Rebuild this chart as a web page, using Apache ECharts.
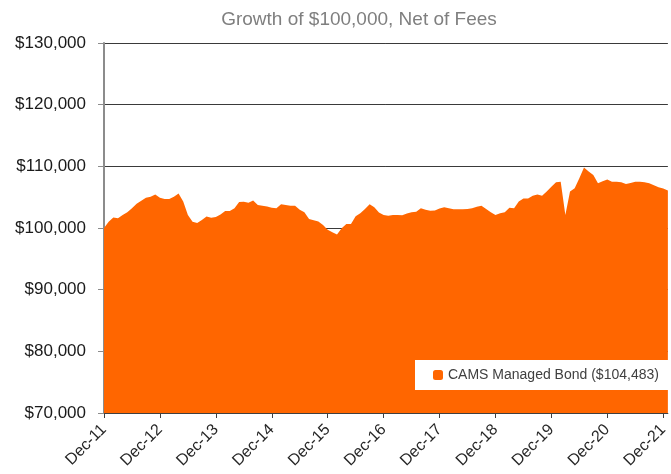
<!DOCTYPE html>
<html>
<head>
<meta charset="utf-8">
<script src="https://cdn.jsdelivr.net/npm/echarts@6/dist/echarts.min.js"></script>
<style>
  html, body { margin: 0; padding: 0; background: #fff; }
  #chart { width: 671px; height: 474px; }
</style>
</head>
<body>
<div id="chart"></div>
<script>
// monthly values, Dec-11 .. Jan-22
const values = [
  100000, 101000, 101700, 101600, 102100, 102550, 103200, 103950, 104400, 104900, 105050, 105450,
  104900, 104700, 104700, 105050, 105600, 104300, 102100, 101000, 100800, 101300, 101850, 101650,
  101800, 102200, 102750, 102750, 103200, 104200, 104270, 104100, 104450, 103750, 103600, 103500,
  103300, 103200, 103850, 103750, 103600, 103600, 102950, 102550, 101450, 101250, 101050, 100500,
  99700, 99300, 98950, 99950, 100650, 100650, 101900, 102400, 103100, 103850, 103350, 102500,
  102100, 102000, 102100, 102100, 102050, 102350, 102550, 102650, 103200, 102950, 102800, 102850,
  103150, 103350, 103200, 103050, 103050, 103050, 103100, 103200, 103450, 103600, 103100, 102550,
  102100, 102400, 102550, 103300, 103200, 104300, 104800, 104800, 105250, 105450, 105250, 105900,
  106700, 107400, 107500, 102100, 105900, 106450, 108050, 109800, 109150, 108600, 107250, 107600,
  107850, 107500, 107500, 107400, 107150, 107300, 107500, 107500, 107400, 107250, 106950, 106600,
  106400, 106100
];
const monthNames = ['Jan', 'Feb', 'Mar', 'Apr', 'May', 'Jun', 'Jul', 'Aug', 'Sep', 'Oct', 'Nov', 'Dec'];
const startYear = 11;
const yTicks = { min: 70000, max: 130000, step: 10000 };
const seriesName = 'CAMS Managed Bond ($104,483)';
const title = 'Growth of $100,000, Net of Fees';

// category labels like Dec-11, Jan-12, ...
const months = values.map((_, i) => {
  const m = (11 + i) % 12;
  const y = startYear + Math.floor((11 + i) / 12);
  return monthNames[m] + '-' + String(y).padStart(2, '0');
});

const chart = echarts.init(document.getElementById('chart'));
const font = '"Liberation Sans", Arial, sans-serif';

chart.setOption({
  animation: false,
  textStyle: { fontFamily: font },
  title: {
    text: title,
    left: 354,
    textAlign: 'center',
    top: 5,
    textStyle: { fontSize: 19, fontWeight: 'normal', color: '#7f7f7f', fontFamily: font },
  },
  grid: { left: 104, top: 43, right: 0, bottom: 61, containLabel: false },
  legend: {
    left: 415,
    top: 360,
    backgroundColor: '#ffffff',
    padding: [8, 14, 8, 18],
    itemWidth: 10,
    itemHeight: 10,
    icon: 'roundRect',
    textStyle: { fontSize: 14, color: '#404040', fontFamily: font },
    data: [seriesName],
  },
  xAxis: {
    type: 'category',
    data: months,
    boundaryGap: false,
    axisLine: { lineStyle: { color: '#404040', width: 1 } },
    axisTick: {
      show: true,
      length: 5,
      interval: i => i % 12 === 0,
      lineStyle: { color: '#404040' },
    },
    axisLabel: {
      interval: i => i % 12 === 0,
      rotate: 45,
      margin: 14,
      fontSize: 16,
      color: '#262626',
      fontFamily: font,
    },
    splitLine: { show: false },
  },
  yAxis: {
    type: 'value',
    min: yTicks.min,
    max: yTicks.max,
    interval: yTicks.step,
    axisLine: { show: true, lineStyle: { color: '#8c8c8c', width: 2 } },
    axisTick: { show: true, length: 6, lineStyle: { color: '#8c8c8c' } },
    axisLabel: {
      formatter: v => '$' + v.toLocaleString('en-US'),
      fontSize: 17,
      color: '#1a1a1a',
      margin: 18,
      fontFamily: font,
    },
    splitLine: { show: true, lineStyle: { color: '#3a3a3a', width: 1 } },
  },
  series: [
    {
      name: seriesName,
      type: 'line',
      data: values,
      showSymbol: false,
      symbol: 'none',
      lineStyle: { width: 0 },
      itemStyle: { color: '#ff6600' },
      areaStyle: { color: '#ff6600', opacity: 1, origin: 'start' },
      z: 3,
    },
  ],
});
</script>
</body>
</html>
